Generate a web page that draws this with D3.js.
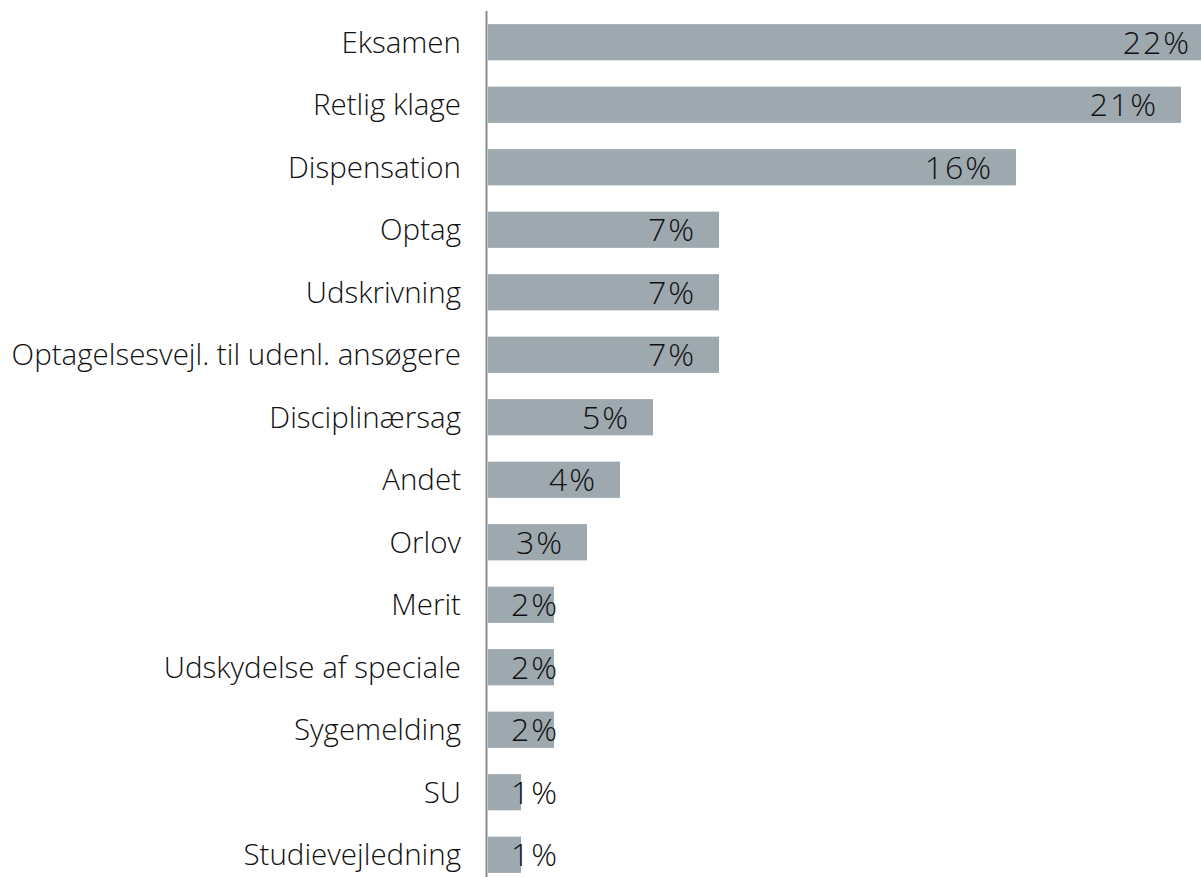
<!DOCTYPE html>
<html>
<head>
<meta charset="utf-8">
<script src="https://cdn.jsdelivr.net/npm/d3@7/dist/d3.min.js"></script>
<style>
  html, body { margin: 0; padding: 0; background: #fff; }
  svg text { font-family: "Open Sans", "Noto Sans", sans-serif; fill: #111; }
</style>
</head>
<body>
<svg id="chart" width="1201" height="877"></svg>
<script>
  // categories top to bottom
  var categories = ["Eksamen", "Retlig klage", "Dispensation", "Optag", "Udskrivning",
    "Optagelsesvejl. til udenl. ansøgere", "Disciplinærsag", "Andet", "Orlov", "Merit",
    "Udskydelse af speciale", "Sygemelding", "SU", "Studievejledning"];
  var shares = [0.22, 0.21, 0.16, 0.07, 0.07, 0.07, 0.05, 0.04, 0.03, 0.02, 0.02, 0.02, 0.01, 0.01];

  var W = 1201, H = 877;
  var svg = d3.select("#chart");
  svg.append("rect").attr("width", W).attr("height", H).attr("fill", "#fff");

  var x = d3.scaleLinear().domain([0, 0.22]).range([488, 1214]);
  var y = d3.scaleBand().domain(categories).range([11, 886]).paddingInner(0.42).paddingOuter(0.21);

  var rows = categories.map(function (c, i) { return { name: c, v: shares[i] }; });

  svg.selectAll("rect.bar").data(rows).enter().append("rect")
    .attr("class", "bar")
    .attr("x", x(0))
    .attr("y", function (d) { return y(d.name); })
    .attr("width", function (d) { return x(d.v) - x(0); })
    .attr("height", y.bandwidth())
    .attr("fill", "#9ea8af");

  // category labels
  svg.selectAll("text.cat").data(rows).enter().append("text")
    .attr("class", "cat")
    .attr("x", 461)
    .attr("y", function (d) { return y(d.name) + y.bandwidth() / 2; })
    .attr("dy", "0.35em")
    .attr("text-anchor", "end")
    .style("font-size", "29.5px")
    .style("font-weight", 300)
    .text(function (d) { return d.name; });

  // value labels, inside end (pushed out for short bars)
  var fmt = d3.format(".0%");
  svg.selectAll("text.val").data(rows).enter().append("text")
    .attr("class", "val")
    .attr("x", function (d) { return Math.max(x(d.v) - 25, 557) + 2; })
    .attr("y", function (d) { return y(d.name) + y.bandwidth() / 2; })
    .attr("dy", "0.36em")
    .attr("text-anchor", "end")
    .style("font-size", "32px")
    .style("font-weight", 300)
    .style("letter-spacing", "2px")
    .text(function (d) { return fmt(d.v); });

  // vertical axis line
  svg.append("line")
    .attr("x1", 486.5).attr("x2", 486.5)
    .attr("y1", 11).attr("y2", H)
    .attr("stroke", "#8c8c8c").attr("stroke-width", 2);
</script>
</body>
</html>
